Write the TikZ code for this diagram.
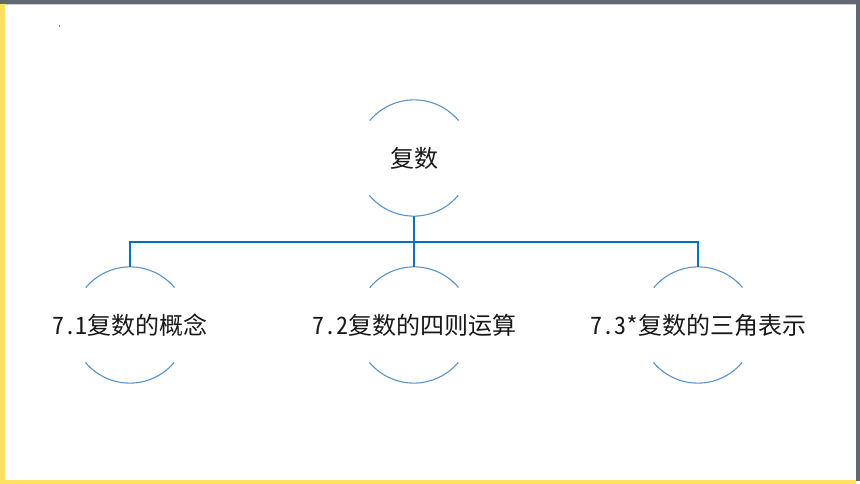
\documentclass[tikz,border=0pt]{standalone}
\usepackage{fontspec}
\newfontfamily\cjk[RawFeature=+hwid]{Noto Sans CJK SC}
\definecolor{framegray}{HTML}{626871}
\definecolor{frameyellow}{HTML}{FFE15F}
\definecolor{linkblue}{HTML}{0A70BE}
\definecolor{arcblue}{HTML}{5B93CB}
\tikzset{
  ring/.style={circle, minimum size=116pt, inner sep=0pt, draw=none},
  lab/.style={font=\cjk\fontsize{24}{28}\selectfont, inner sep=0pt, text=black!90},
  arcline/.style={draw=arcblue, line width=1.1pt},
  conn/.style={draw=linkblue, line width=2pt},
}
\begin{document}
\begin{tikzpicture}[x=1pt,y=-1pt]
\useasboundingbox (0,0) rectangle (860,484);
\fill[white] (0,0) rectangle (860,484);
% frame
\fill[frameyellow] (0,3) rectangle (4.5,484);
\fill[frameyellow] (0,480) rectangle (856,484);
\fill[framegray] (0,0) rectangle (860,4);
\fill[framegray] (855.5,0) rectangle (860,481);
\draw[gray!40, line width=0.6pt] (4.5,4.6) -- (855.5,4.6);
\fill[gray] (58.7,25) rectangle (59.4,27);
% circles
\node[ring] (top) at (414,158) {};
\node[ring] (l) at (130,325) {};
\node[ring] (m) at (414,325) {};
\node[ring] (r) at (698,325) {};
\foreach \n in {top,l,m,r}{
  \draw[arcline] (\n.40) arc[start angle=40, end angle=140, radius=58pt];
  \draw[arcline] (\n.220) arc[start angle=220, end angle=320, radius=58pt];
}
% labels
\node[lab] (ttop) at (top) {复数};
\node[lab] (tl) at (l) {7.1复数的概念};
\node[lab] (tm) at (m) {7.2复数的四则运算};
\node[lab] (tr) at (r) {7.3*复数的三角表示};
% connectors
\coordinate (bar) at (0,242);
\draw[conn] (top.south) -- (m.north);
\draw[conn] (l.north) -- (l.north |- bar) -- (r.north |- bar) -- (r.north);
\end{tikzpicture}
\end{document}
